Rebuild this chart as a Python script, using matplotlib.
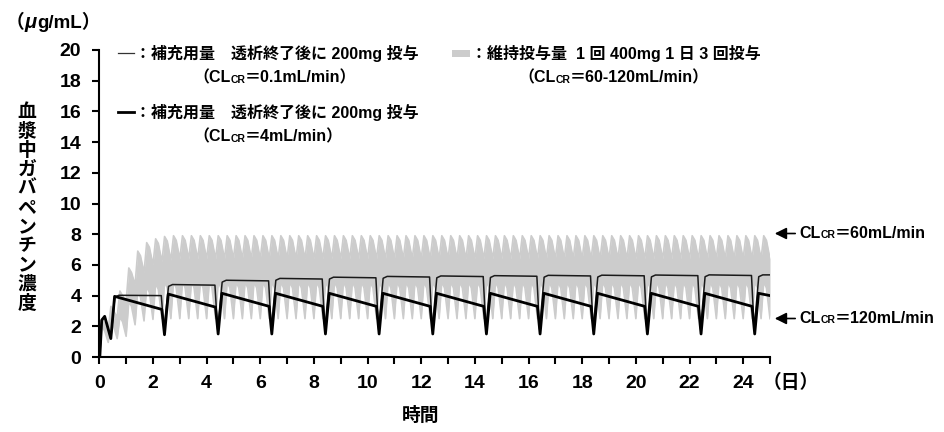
import matplotlib
matplotlib.use("Agg")
import matplotlib.pyplot as plt
from matplotlib.offsetbox import TextArea, HPacker, AnnotationBbox
from matplotlib.lines import Line2D
from matplotlib.patches import Rectangle, FancyArrowPatch

plt.rcParams['font.family'] = ['Liberation Sans', 'Noto Sans CJK JP', 'DejaVu Sans']

# ---------------- data ----------------
x_ticks = list(range(0, 26))
x_labels = [str(v) if (v % 2 == 0 and v <= 24) else '' for v in x_ticks]
y_ticks = list(range(0, 21, 2))

# maintenance dose 400 mg x3/day (grey band between CLcr 60 and CLcr 120 curves)
dose_times = [k / 3 for k in range(76)]
hi_peak = [2.5, 3.3, 4.3, 5.8, 6.9, 7.45, 7.7, 7.85] + [7.9] * 67
hi_shoulder = [2.2, 3.0, 4.0, 5.5, 6.6, 7.15, 7.4, 7.55] + [7.6] * 67
hi_trough = [0.0, 1.8, 2.6, 3.6, 4.7, 5.5, 6.0, 6.2, 6.3] + [6.4] * 67
lo_peak = [2.0, 2.3, 2.6, 3.6, 4.3, 4.6, 4.8] + [4.9] * 68
lo_shoulder = [1.7, 2.0, 2.3, 3.3, 3.9, 4.2, 4.4] + [4.5] * 68
lo_trough = [0.0, 0.95, 1.2, 1.35, 2.1, 2.35, 2.45] + [2.5] * 69

# supplementary dose after dialysis
dialysis_days = [0.43, 2.43, 4.43, 6.43, 8.43, 10.43, 12.43, 14.43, 16.43,
                 18.43, 20.43, 22.43, 24.43]
initial_t = [0.0, 0.02, 0.09, 0.2]
initial_v = [0.0, 0.0, 2.4, 2.65]
# CLcr = 4 mL/min (thick)
thick_bottom = [1.2, 1.45, 1.5, 1.5, 1.5, 1.5, 1.5, 1.5, 1.5, 1.5, 1.5, 1.5, 1.5]
thick_peak = [3.95, 4.1, 4.15, 4.15, 4.15, 4.15, 4.15, 4.15, 4.15, 4.15, 4.15, 4.15, 4.15]
thick_end = [3.1, 3.25, 3.3, 3.3, 3.3, 3.3, 3.3, 3.3, 3.3, 3.3, 3.3, 3.3, 4.0]
# CLcr = 0.1 mL/min (thin)
thin_bottom = [1.2, 1.8, 1.8, 1.8, 1.8, 1.8, 1.8, 1.8, 1.8, 1.8, 1.8, 1.8, 1.8]
thin_start = [4.02, 4.72, 5.0, 5.12, 5.2, 5.25, 5.28, 5.3, 5.32, 5.33, 5.34, 5.35, 5.35]
thin_end = [4.0, 4.68, 4.96, 5.08, 5.16, 5.21, 5.24, 5.26, 5.28, 5.29, 5.3, 5.31, 5.35]


def build_band(peaks, shoulders, troughs):
    t, v = [], []
    for k in range(len(peaks)):
        t0 = dose_times[k]
        t += [t0, t0 + 0.1, t0 + 0.2]
        v += [troughs[k], peaks[k], shoulders[k]]
    t.append(dose_times[-1])
    v.append(troughs[-1])
    return t, v


def build_thick():
    t, v = list(initial_t), list(initial_v)
    n = len(dialysis_days)
    for j, d in enumerate(dialysis_days):
        t += [d, d + 0.14]
        v += [thick_bottom[j], thick_peak[j]]
        t.append(dialysis_days[j + 1] - 0.1 if j + 1 < n else 25.0)
        v.append(thick_end[j])
    return t, v


def build_thin():
    t, v = list(initial_t), list(initial_v)
    n = len(dialysis_days)
    for j, d in enumerate(dialysis_days):
        dd = d if j == 0 else d - 0.02
        t += [dd, d + 0.15, d + 0.3]
        v += [thin_bottom[j], thin_start[j] - 0.12, thin_start[j]]
        t.append(dialysis_days[j + 1] - 0.12 if j + 1 < n else 25.0)
        v.append(thin_end[j])
    return t, v


W, H = 944, 432
fig = plt.figure(figsize=(W / 100, H / 100), dpi=100)
ax = fig.add_axes([99.3 / W, 75 / H, (770 - 99.3) / W, (357 - 50) / H])

bt, bhi = build_band(hi_peak, hi_shoulder, hi_trough)
_, blo = build_band(lo_peak, lo_shoulder, lo_trough)
GREY = '#cccccc'
ax.fill_between(bt, blo, bhi, color=GREY, lw=0, zorder=1)
ax.plot(bt, bhi, color=GREY, lw=1.2, solid_joinstyle='round', zorder=1)
ax.plot(bt, blo, color=GREY, lw=1.2, solid_joinstyle='round', zorder=1)

tt, tv = build_thin()
ax.plot(tt, tv, color='#1a1a1a', lw=1.1, zorder=3)
kt, kv = build_thick()
ax.plot(kt, kv, color='black', lw=2.0, zorder=4)

ax.set_xlim(0, 25)
ax.set_ylim(0, 20)
ax.set_xticks(x_ticks)
ax.set_xticklabels(x_labels)
ax.set_yticks(y_ticks)
for s in ('top', 'right'):
    ax.spines[s].set_visible(False)
for s in ('left', 'bottom'):
    ax.spines[s].set_linewidth(1.5)
ax.tick_params(direction='out', length=5, width=1.5, pad=8, labelsize=14)
for lab in ax.get_xticklabels() + ax.get_yticklabels():
    lab.set_fontweight('bold')


def fy(y_img):
    return H - y_img


def rich(parts, x, y_img, align=(0, 0.5)):
    kids = []
    for p in parts:
        s, fs = p[0], p[1]
        style = p[2] if len(p) > 2 else 'normal'
        kids.append(TextArea(s, textprops=dict(fontsize=fs, fontweight='bold',
                                               fontstyle=style, color='black')))
    box = HPacker(children=kids, align='baseline', pad=0, sep=0)
    ab = AnnotationBbox(box, (x, fy(y_img)), xycoords='figure pixels',
                        box_alignment=align, frameon=False, pad=0,
                        annotation_clip=False)
    fig.add_artist(ab)


FS = 11.5
SUB = 7.5
# unit
rich([('（', 13.5), ('μ', 14.5, 'italic'), ('g/mL）', 13.5)], 6, 22)
# y label
ylabel = '血漿中ガバペンチン濃度'
for i, ch in enumerate(ylabel):
    fig.text(27 / W, 1 - (112.5 + i * 19.15) / H, ch, ha='center', va='center',
             fontsize=13.5, fontweight='bold')
# x label and unit
fig.text(421 / W, 1 - 416 / H, '時間', ha='center', va='center', fontsize=13.5, fontweight='bold')
fig.text(791 / W, 1 - 383 / H, '（日）', ha='center', va='center', fontsize=13.5, fontweight='bold')

# legend
fig.add_artist(Line2D([118 / W, 134 / W], [1 - 53 / H] * 2, transform=fig.transFigure,
                      color='#333333', lw=0.9))
rich([('：補充用量\u3000透析終了後に 200mg 投与', FS)], 135, 53)
rich([('（CL', FS), ('CR', SUB), ('＝0.1mL/min）', FS)], 193, 78)
fig.add_artist(Line2D([118 / W, 134 / W], [1 - 112 / H] * 2, transform=fig.transFigure,
                      color='black', lw=2.0))
rich([('：補充用量\u3000透析終了後に 200mg 投与', FS)], 135, 112)
rich([('（CL', FS), ('CR', SUB), ('＝4mL/min）', FS)], 193, 137)
fig.add_artist(Rectangle((452 / W, 1 - 57 / H), 18 / W, 7 / H, transform=fig.transFigure,
                         color=GREY, lw=0))
rich([('：維持投与量  1 回 400mg 1 日 3 回投与', FS)], 471, 53)
rich([('（CL', FS), ('CR', SUB), ('＝60-120mL/min）', FS)], 518, 78)

# right annotations
for yv, txt in ((233.5, '＝60mL/min'), (318.5, '＝120mL/min')):
    fig.add_artist(FancyArrowPatch(
        (798, fy(yv)), (772, fy(yv)), transform=None,
        arrowstyle='-|>,head_length=7,head_width=3.5',
        color='black', lw=1.2, mutation_scale=1))
    rich([('CL', 11.5), ('CR', 7.5), (txt, 11.5)], 799, yv)

fig.savefig('out.png', dpi=100)
